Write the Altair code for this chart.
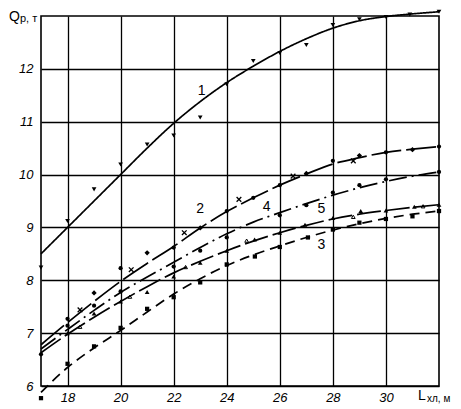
import altair as alt
import pandas as pd

# curve values at integer lengths
xs = list(range(17, 33))
c1 = [8.5, 9.0, 9.5, 10.0, 10.5, 10.97, 11.38, 11.74, 12.05, 12.33, 12.57, 12.77, 12.91, 12.99, 13.04, 13.08]
c2 = [6.78, 7.2, 7.6, 7.98, 8.32, 8.64, 8.99, 9.3, 9.56, 9.8, 10.01, 10.2, 10.32, 10.42, 10.48, 10.53]
c4 = [6.70, 7.07, 7.43, 7.77, 8.06, 8.34, 8.62, 8.88, 9.1, 9.28, 9.45, 9.61, 9.75, 9.87, 9.97, 10.05]
c5 = [6.63, 6.98, 7.3, 7.6, 7.88, 8.14, 8.36, 8.56, 8.74, 8.9, 9.04, 9.16, 9.25, 9.32, 9.38, 9.43]
c3 = [5.88, 6.35, 6.72, 7.05, 7.4, 7.74, 8.03, 8.28, 8.48, 8.65, 8.81, 8.95, 9.07, 9.17, 9.25, 9.31]

# measured points
p1_x = [17, 18, 19, 20, 21, 22, 23, 24, 25, 26, 27, 28, 29, 30, 30.9, 32]
p1_y = [8.24, 9.12, 9.72, 10.19, 10.57, 10.74, 11.08, 11.71, 12.15, 12.3, 12.45, 12.83, 12.94, 12.98, 13.03, 13.08]

px_x = [18.47, 20.4, 22.4, 24.46, 26.5, 28.77]
px_y = [7.44, 8.2, 8.9, 9.53, 9.97, 10.26]

pd_x = [19, 21, 23, 27, 29, 31]
pd_y = [7.76, 8.52, 8.99, 10.02, 10.36, 10.47]

pc2_x = [18, 20, 22, 24, 25, 26, 28, 30, 32]
pc2_y = [7.27, 8.23, 8.62, 9.31, 9.56, 9.8, 10.26, 10.42, 10.53]

pc4_x = [17, 18, 19, 20, 22, 23, 24, 26, 27, 28, 29, 30, 32]
pc4_y = [6.6, 7.14, 7.52, 7.79, 8.26, 8.56, 8.81, 9.23, 9.42, 9.66, 9.8, 9.91, 10.05]

pt_x = [18, 19, 20, 21, 22, 23, 24, 25.05, 26, 26.95, 28, 29.05, 30, 31.07, 32]
pt_y = [7.0, 7.37, 7.6, 7.78, 8.07, 8.33, 8.56, 8.77, 8.9, 9.05, 9.18, 9.31, 9.32, 9.39, 9.43]

pto_x = [18.47, 20.35, 22.45, 24.75, 28.77, 31.4]
pto_y = [7.12, 7.69, 8.25, 8.75, 9.2, 9.4]

ps_x = [17, 18, 19, 20, 21, 22, 23, 24, 25.06, 26, 27.06, 28, 29, 30, 31, 32]
ps_y = [5.77, 6.42, 6.75, 7.1, 7.46, 7.68, 7.96, 8.3, 8.45, 8.63, 8.81, 8.96, 9.09, 9.16, 9.21, 9.31]

lab_text = ["1", "2", "4", "5", "3"]
lab_x = [23.05, 23.0, 25.5, 27.57, 27.57]
lab_y = [11.58, 9.34, 9.38, 9.34, 8.66]

x_ticks = [18, 20, 22, 24, 26, 28, 30]
y_ticks = [6, 7, 8, 9, 10, 11, 12]

FONT = "Liberation Sans"

xs_ = alt.Scale(domain=[17, 32], nice=False, zero=False)
ys_ = alt.Scale(domain=[6, 13], nice=False, zero=False)

xax = alt.Axis(values=x_ticks, title=None, grid=True, gridColor="black", gridWidth=1.3,
               gridOpacity=1, domain=False, ticks=False, labelPadding=5, labelFontSize=13,
               labelFont=FONT, labelFontStyle="italic", labelColor="black")
yax = alt.Axis(values=y_ticks, title=None, grid=True, gridColor="black", gridWidth=1.3,
               gridOpacity=1, domain=False, ticks=False, labelPadding=8, labelFontSize=13,
               labelFont=FONT, labelFontStyle="italic", labelColor="black")

X = lambda: alt.X("x:Q", scale=xs_, axis=xax)
Y = lambda: alt.Y("y:Q", scale=ys_, axis=yax)


def line(vals, dash):
    df = pd.DataFrame({"x": xs, "y": vals})
    return alt.Chart(df).mark_line(color="black", strokeWidth=1.7, strokeDash=dash,
                                   interpolate="monotone").encode(x=X(), y=Y())


def pts(xv, yv, shape, size, filled=True, sw=1.0):
    df = pd.DataFrame({"x": xv, "y": yv})
    return alt.Chart(df).mark_point(shape=shape, size=size, filled=filled, color="black",
                                    strokeWidth=sw, opacity=1).encode(x=X(), y=Y())


layers = [
    line(c1, [1, 0]),
    line(c2, [30, 5]),
    line(c4, [18, 5, 2, 5]),
    line(c5, [24, 5]),
    line(c3, [10, 6]),
    pts(p1_x, p1_y, "triangle-down", 22),
    pts(px_x, px_y, "M-1,-1L1,1M-1,1L1,-1", 22, filled=False, sw=1.3),
    pts(pd_x, pd_y, "diamond", 28),
    pts(pc2_x, pc2_y, "circle", 18),
    pts(pc4_x, pc4_y, "circle", 18),
    pts(pt_x, pt_y, "triangle-up", 22),
    pts(pto_x, pto_y, "triangle-up", 14, filled=False, sw=1.0),
    pts(ps_x, ps_y, "square", 18),
]

lab_df = pd.DataFrame({"t": lab_text, "x": lab_x, "y": lab_y})
labels = alt.Chart(lab_df).mark_text(font=FONT, fontSize=14, color="black").encode(
    x=X(), y=Y(), text="t:N")
layers.append(labels)


def title_text(t, xpx, ypx, size):
    return alt.Chart(pd.DataFrame({"t": [t]})).mark_text(
        font=FONT, fontSize=size, color="black", align="left", baseline="alphabetic").encode(
        x=alt.value(xpx), y=alt.value(ypx), text="t:N")


layers += [
    title_text("Q", -32, 5, 14),
    title_text("р, т", -21, 6, 11),
    title_text("L", 377, 384, 14),
    title_text("хл, м", 386, 386, 10),
]

chart = alt.layer(*layers).properties(
    width=398, height=370,
    autosize=alt.AutoSizeParams(type="none"),
    padding={"left": 33, "top": 8, "right": 14, "bottom": 20},
).configure_view(stroke="black", strokeWidth=1.6)

chart.save("out.html", embed_options={"renderer": "svg", "actions": False})
